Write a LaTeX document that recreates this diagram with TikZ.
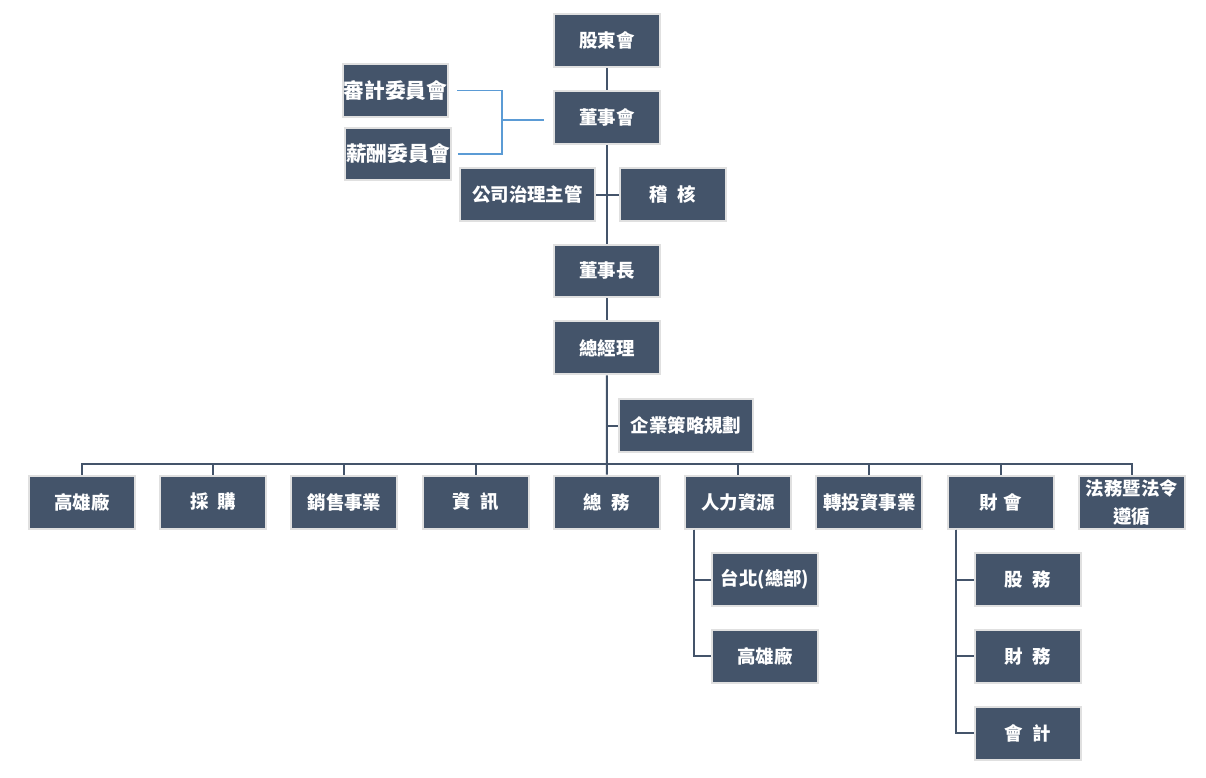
\documentclass[tikz,border=0pt]{standalone}
\usepackage{fontspec}
\setmainfont{Noto Sans CJK TC}
\usepackage{tikz}
\usetikzlibrary{positioning}
\definecolor{slate}{HTML}{44546A}
\definecolor{rimgrey}{HTML}{E0E0E0}
\definecolor{cblue}{HTML}{5B9BD5}

\begin{document}
\begin{tikzpicture}[x=0.02cm,y=-0.02cm,node distance=1.54cm]
\tikzstyle{unit}=[draw=rimgrey,line width=0.04cm,fill=slate,text=white,font=\fontsize{10.5}{16}\selectfont\bfseries,minimum width=2.12cm,minimum height=1.06cm,inner sep=0pt,align=center]
\tikzstyle{wideunit}=[unit,minimum width=2.7cm]
\tikzstyle{boardunit}=[unit,font=\fontsize{11.8}{16}\selectfont\bfseries]
\tikzstyle{rowunit}=[unit,node distance=2.625cm]
\tikzstyle{link}=[draw=slate,line width=0.04cm]
\tikzstyle{bluelink}=[draw=cblue,line width=0.6pt]
\useasboundingbox (0,0) rectangle (1206,777);

\node [unit] at (607,40.5) (sh) {股東會};
\node [unit,below of=sh] (bd) {董事會};
\node [boardunit] at (395.5,90.5) (k1) {審計委員會};
\node [boardunit] at (398,154) (k2) {薪酬委員會};
\node [wideunit] at (527.5,194.5) (gv) {公司治理主管};
\node [unit] at (673,194.5) (au) {稽\hspace{.5em}核};
\node [unit] at (607,271) (ch) {董事長};
\node [unit,below of=ch] (gm) {總經理};
\node [wideunit] at (686,425.5) (sp) {企業策略規劃};

\node [unit] at (82,502) (d1) {高雄廠};
\node [rowunit,right of=d1] (d2) {採\hspace{.5em}購};
\node [rowunit,right of=d2] (d3) {銷售事業};
\node [rowunit,right of=d3] (d4) {資\hspace{.5em}訊};
\node [rowunit,right of=d4] (d5) {總\hspace{.5em}務};
\node [rowunit,right of=d5] (d6) {人力資源};
\node [rowunit,right of=d6] (d7) {轉投資事業};
\node [rowunit,right of=d7] (d8) {財\hspace{.3em}會};
\node [rowunit,right of=d8] (d9) {法務暨法令\\遵循};

\node [unit] at (765,579.5) (h1) {台北(總部)};
\node [unit,below of=h1] (h2) {高雄廠};
\node [unit] at (1028,579.5) (f1) {股\hspace{.5em}務};
\node [unit,below of=f1] (f2) {財\hspace{.5em}務};
\node [unit,below of=f2] (f3) {會\hspace{.5em}計};

\coordinate (bus) at (607,464);
\coordinate (jn) at (502,120);

\draw [link] (sh) -- (bd);
\draw [link] (bd) -- (ch);
\draw [link] (gv) -- (au);
\draw [link] (ch) -- (gm);
\draw [link] (gm) -- (d5);
\draw [link] (sp.west) -- (sp.west -| gm.south);
\draw [link] (d1.north) |- (bus) -| (d9.north);
\draw [link] (d2.north) -- (d2.north |- bus);
\draw [link] (d3.north) -- (d3.north |- bus);
\draw [link] (d4.north) -- (d4.north |- bus);
\draw [link] (d6.north) -- (d6.north |- bus);
\draw [link] (d7.north) -- (d7.north |- bus);
\draw [link] (d8.north) -- (d8.north |- bus);
\draw [link] ([xshift=0.2cm]d6.south west) |- (h1.west);
\draw [link] ([xshift=0.2cm]d6.south west) |- (h2.west);
\draw [link] ([xshift=0.18cm]d8.south west) |- (f1.west);
\draw [link] ([xshift=0.18cm]d8.south west) |- (f2.west);
\draw [link] ([xshift=0.18cm]d8.south west) |- (f3.west);

\draw [bluelink] ([xshift=0.16cm]k1.east) -| (jn);
\draw [bluelink] ([xshift=0.12cm]k2.east) -| (jn);
\draw [bluelink] (jn) -- ([xshift=-0.18cm]bd.west |- jn);
\end{tikzpicture}
\end{document}
